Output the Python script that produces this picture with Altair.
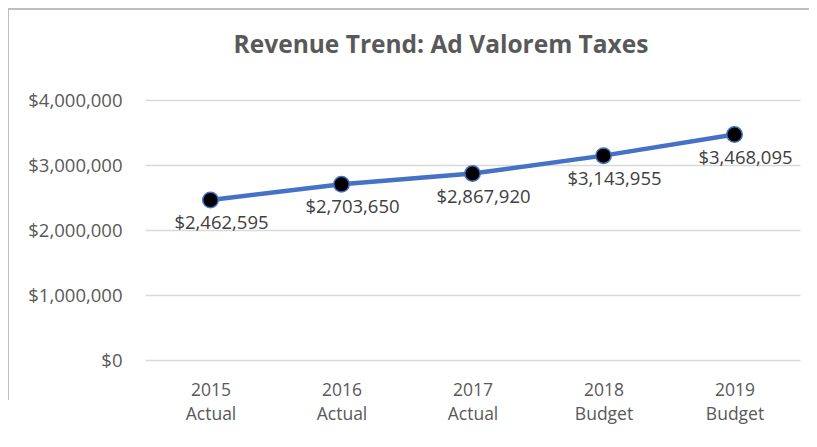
import altair as alt
import pandas as pd

categories = ["2015 Actual", "2016 Actual", "2017 Actual", "2018 Budget", "2019 Budget"]
revenue = [2462595, 2703650, 2867920, 3143955, 3468095]
y_ticks = [0, 1000000, 2000000, 3000000, 4000000]
title_text = "Revenue Trend: Ad Valorem Taxes"

df = pd.DataFrame({"cat": categories, "val": revenue})
df["label"] = df["val"].map(lambda v: "${:,.0f}".format(v))

FONT = "Open Sans"

x = alt.X("cat:N", sort=categories, title=None,
          scale=alt.Scale(paddingInner=0, paddingOuter=0.5),
          axis=alt.Axis(labelAngle=0, labelExpr="split(datum.label, ' ')",
                        labelFontSize=17.5, labelColor="#595959", labelFont=FONT,
                        labelPadding=21, labelLineHeight=24, ticks=False, domain=False,
                        grid=False))
y = alt.Y("val:Q", title=None,
          scale=alt.Scale(domain=[0, 4000000], nice=False),
          axis=alt.Axis(values=y_ticks, format="$,.0f", labelFontSize=18.5,
                        labelColor="#595959", labelFont=FONT, labelPadding=23,
                        ticks=False, domain=False, gridColor="#d9d9d9", gridWidth=1.3))

base = alt.Chart(df)
one = pd.DataFrame({"a": [0]})

frame_top = alt.Chart(one).mark_rule(color="#bfbfbf", strokeWidth=2).encode(
    x=alt.value(-138), x2=alt.value(664), y=alt.value(-91), y2=alt.value(-91))
frame_left = alt.Chart(one).mark_rule(color="#bfbfbf", strokeWidth=2).encode(
    x=alt.value(-137), x2=alt.value(-137), y=alt.value(-92), y2=alt.value(300))
title = alt.Chart(one).mark_text(
    text=title_text, fontSize=24.5, font=FONT, fontWeight="bold", color="#595959",
    align="center", baseline="alphabetic").encode(x=alt.value(296), y=alt.value(-47))

line = base.mark_line(color="#4472C4", strokeWidth=4.5).encode(x=x, y=y)
pts = base.mark_point(filled=True, shape="circle", size=240, fill="#000000",
                      stroke="#4472C4", strokeWidth=1.5, opacity=1).encode(x=x, y=y)
labels = base.mark_text(fontSize=18.5, font=FONT, color="#404040", dx=11, dy=23,
                        baseline="middle").encode(x=x, y=y, text="label:N")

chart = alt.layer(frame_top, frame_left, title, line, pts, labels).properties(
    width=655, height=260,
    autosize=alt.AutoSizeParams(type="none"),
    padding={"left": 137, "top": 92, "right": 9, "bottom": 79},
).configure_view(stroke=None)

chart.save("out.html", embed_options={"renderer": "svg", "actions": False})
